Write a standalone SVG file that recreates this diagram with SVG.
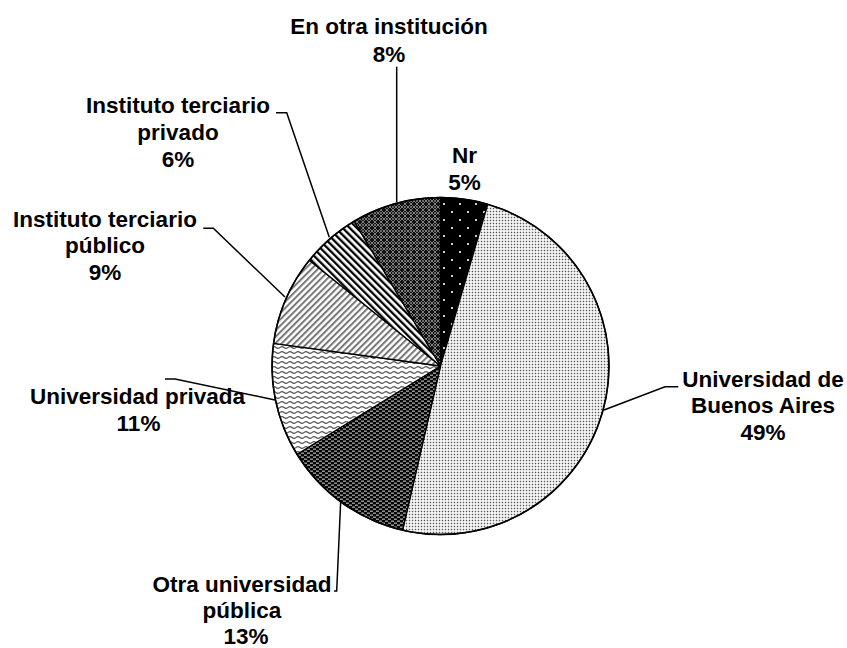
<svg xmlns="http://www.w3.org/2000/svg" width="847" height="648" viewBox="0 0 847 648">
<style>
  .lbl { font-family: "Liberation Sans", Arial, sans-serif; font-weight: bold; font-size: 22.5px; fill: #000; text-anchor: middle; }
  .slice { stroke: #000; stroke-width: 1.3; stroke-linejoin: round; }
  .lead { fill: none; stroke: #000; stroke-width: 1.5; }
</style>
<defs>
  <pattern id="pNr" width="16" height="16" patternUnits="userSpaceOnUse">
    <rect width="16" height="16" fill="#000"/>
    <circle cx="4" cy="4" r="1.1" fill="#fff"/>
    <circle cx="12" cy="12" r="1.1" fill="#fff"/>
  </pattern>
  <pattern id="pUBA" width="3" height="3" patternUnits="userSpaceOnUse">
    <rect width="3" height="3" fill="#fff"/>
    <rect x="0.75" y="0.75" width="1.5" height="1.5" fill="#5a5a5a"/>
  </pattern>
  <pattern id="pOtraPub" width="6" height="4" patternUnits="userSpaceOnUse">
    <rect width="6" height="4" fill="#000"/>
    <rect x="1" y="0.6" width="3" height="1.1" fill="#ccc"/>
    <rect x="4" y="2.6" width="3" height="1.1" fill="#ccc"/>
    <rect x="-2" y="2.6" width="3" height="1.1" fill="#ccc"/>
  </pattern>
  <pattern id="pPriv" width="8" height="5" patternUnits="userSpaceOnUse">
    <rect width="8" height="5" fill="#fff"/>
    <path d="M0 2.5 Q2 0.6 4 2.5 T8 2.5" fill="none" stroke="#555" stroke-width="1.2"/>
  </pattern>
  <pattern id="pTercPub" width="4.5" height="10" patternUnits="userSpaceOnUse" patternTransform="rotate(45)">
    <rect width="4.5" height="10" fill="#fff"/>
    <rect width="2" height="10" fill="#777"/>
  </pattern>
  <pattern id="pTercPriv" width="5" height="10" patternUnits="userSpaceOnUse" patternTransform="rotate(-45)">
    <rect width="5" height="10" fill="#fff"/>
    <rect width="2.3" height="10" fill="#000"/>
  </pattern>
  <pattern id="pOtraInst" width="6" height="6" patternUnits="userSpaceOnUse">
    <rect width="6" height="6" fill="#111"/>
    <path d="M0 3 L3 0 L6 3 L3 6 Z" fill="none" stroke="#808080" stroke-width="1"/>
    <rect x="2.4" y="2.4" width="1.2" height="1.2" fill="#fff"/>
  </pattern>
</defs>
<rect width="847" height="648" fill="#fff"/>

<g id="connectors">
  <polyline class="lead" points="604,410 665,386.7 678.3,386.7"/>
  <polyline class="lead" points="340.7,501 336.7,591 334,591"/>
  <polyline class="lead" points="275,400 175,379 165,379"/>
  <polyline class="lead" points="285,297 213.3,228.3 203.3,228.3"/>
  <polyline class="lead" points="329.3,237.3 286.7,112.7 276,112.7"/>
  <polyline class="lead" points="396.7,202 396.7,66.7"/>
</g>

<g id="slice-nr">
  <path class="slice" fill="url(#pNr)" d="M440.5,366 L440.5,197.5 A168.5,168.5 0 0 1 487.8,204.3 Z"/>
  <text class="lbl" x="464.5" y="163.3">Nr</text>
  <text class="lbl" x="464.5" y="190">5%</text>
</g>
<g id="slice-uba">
  <path class="slice" fill="url(#pUBA)" d="M440.5,366 L487.8,204.3 A168.5,168.5 0 0 1 402.6,530.2 Z"/>
  <text class="lbl" x="763" y="386.7">Universidad de</text>
  <text class="lbl" x="763" y="413.3">Buenos Aires</text>
  <text class="lbl" x="763" y="440">49%</text>
</g>
<g id="slice-otra-publica">
  <path class="slice" fill="url(#pOtraPub)" d="M440.5,366 L402.6,530.2 A168.5,168.5 0 0 1 297.0,454.3 Z"/>
  <text class="lbl" x="242" y="592">Otra universidad</text>
  <text class="lbl" x="242" y="618">pública</text>
  <text class="lbl" x="246" y="643.5">13%</text>
</g>
<g id="slice-univ-privada">
  <path class="slice" fill="url(#pPriv)" d="M440.5,366 L297.0,454.3 A168.5,168.5 0 0 1 273.5,343.4 Z"/>
  <text class="lbl" x="137.5" y="404">Universidad privada</text>
  <text class="lbl" x="138.5" y="431">11%</text>
</g>
<g id="slice-terc-publico">
  <path class="slice" fill="url(#pTercPub)" d="M440.5,366 L273.5,343.4 A168.5,168.5 0 0 1 309.4,260.2 Z"/>
  <text class="lbl" x="105" y="226.7">Instituto terciario</text>
  <text class="lbl" x="105" y="253.3">público</text>
  <text class="lbl" x="105" y="280">9%</text>
</g>
<g id="slice-terc-privado">
  <path class="slice" fill="url(#pTercPriv)" d="M440.5,366 L309.4,260.2 A168.5,168.5 0 0 1 354.2,221.3 Z"/>
  <text class="lbl" x="178" y="113.3">Instituto terciario</text>
  <text class="lbl" x="178" y="140">privado</text>
  <text class="lbl" x="178" y="166.7">6%</text>
</g>
<g id="slice-otra-inst">
  <path class="slice" fill="url(#pOtraInst)" d="M440.5,366 L354.2,221.3 A168.5,168.5 0 0 1 440.5,197.5 Z"/>
  <text class="lbl" x="389" y="34">En otra institución</text>
  <text class="lbl" x="389" y="61.5">8%</text>
</g>
<circle cx="440.5" cy="366" r="168.5" fill="none" stroke="#000" stroke-width="1.6"/>
</svg>
